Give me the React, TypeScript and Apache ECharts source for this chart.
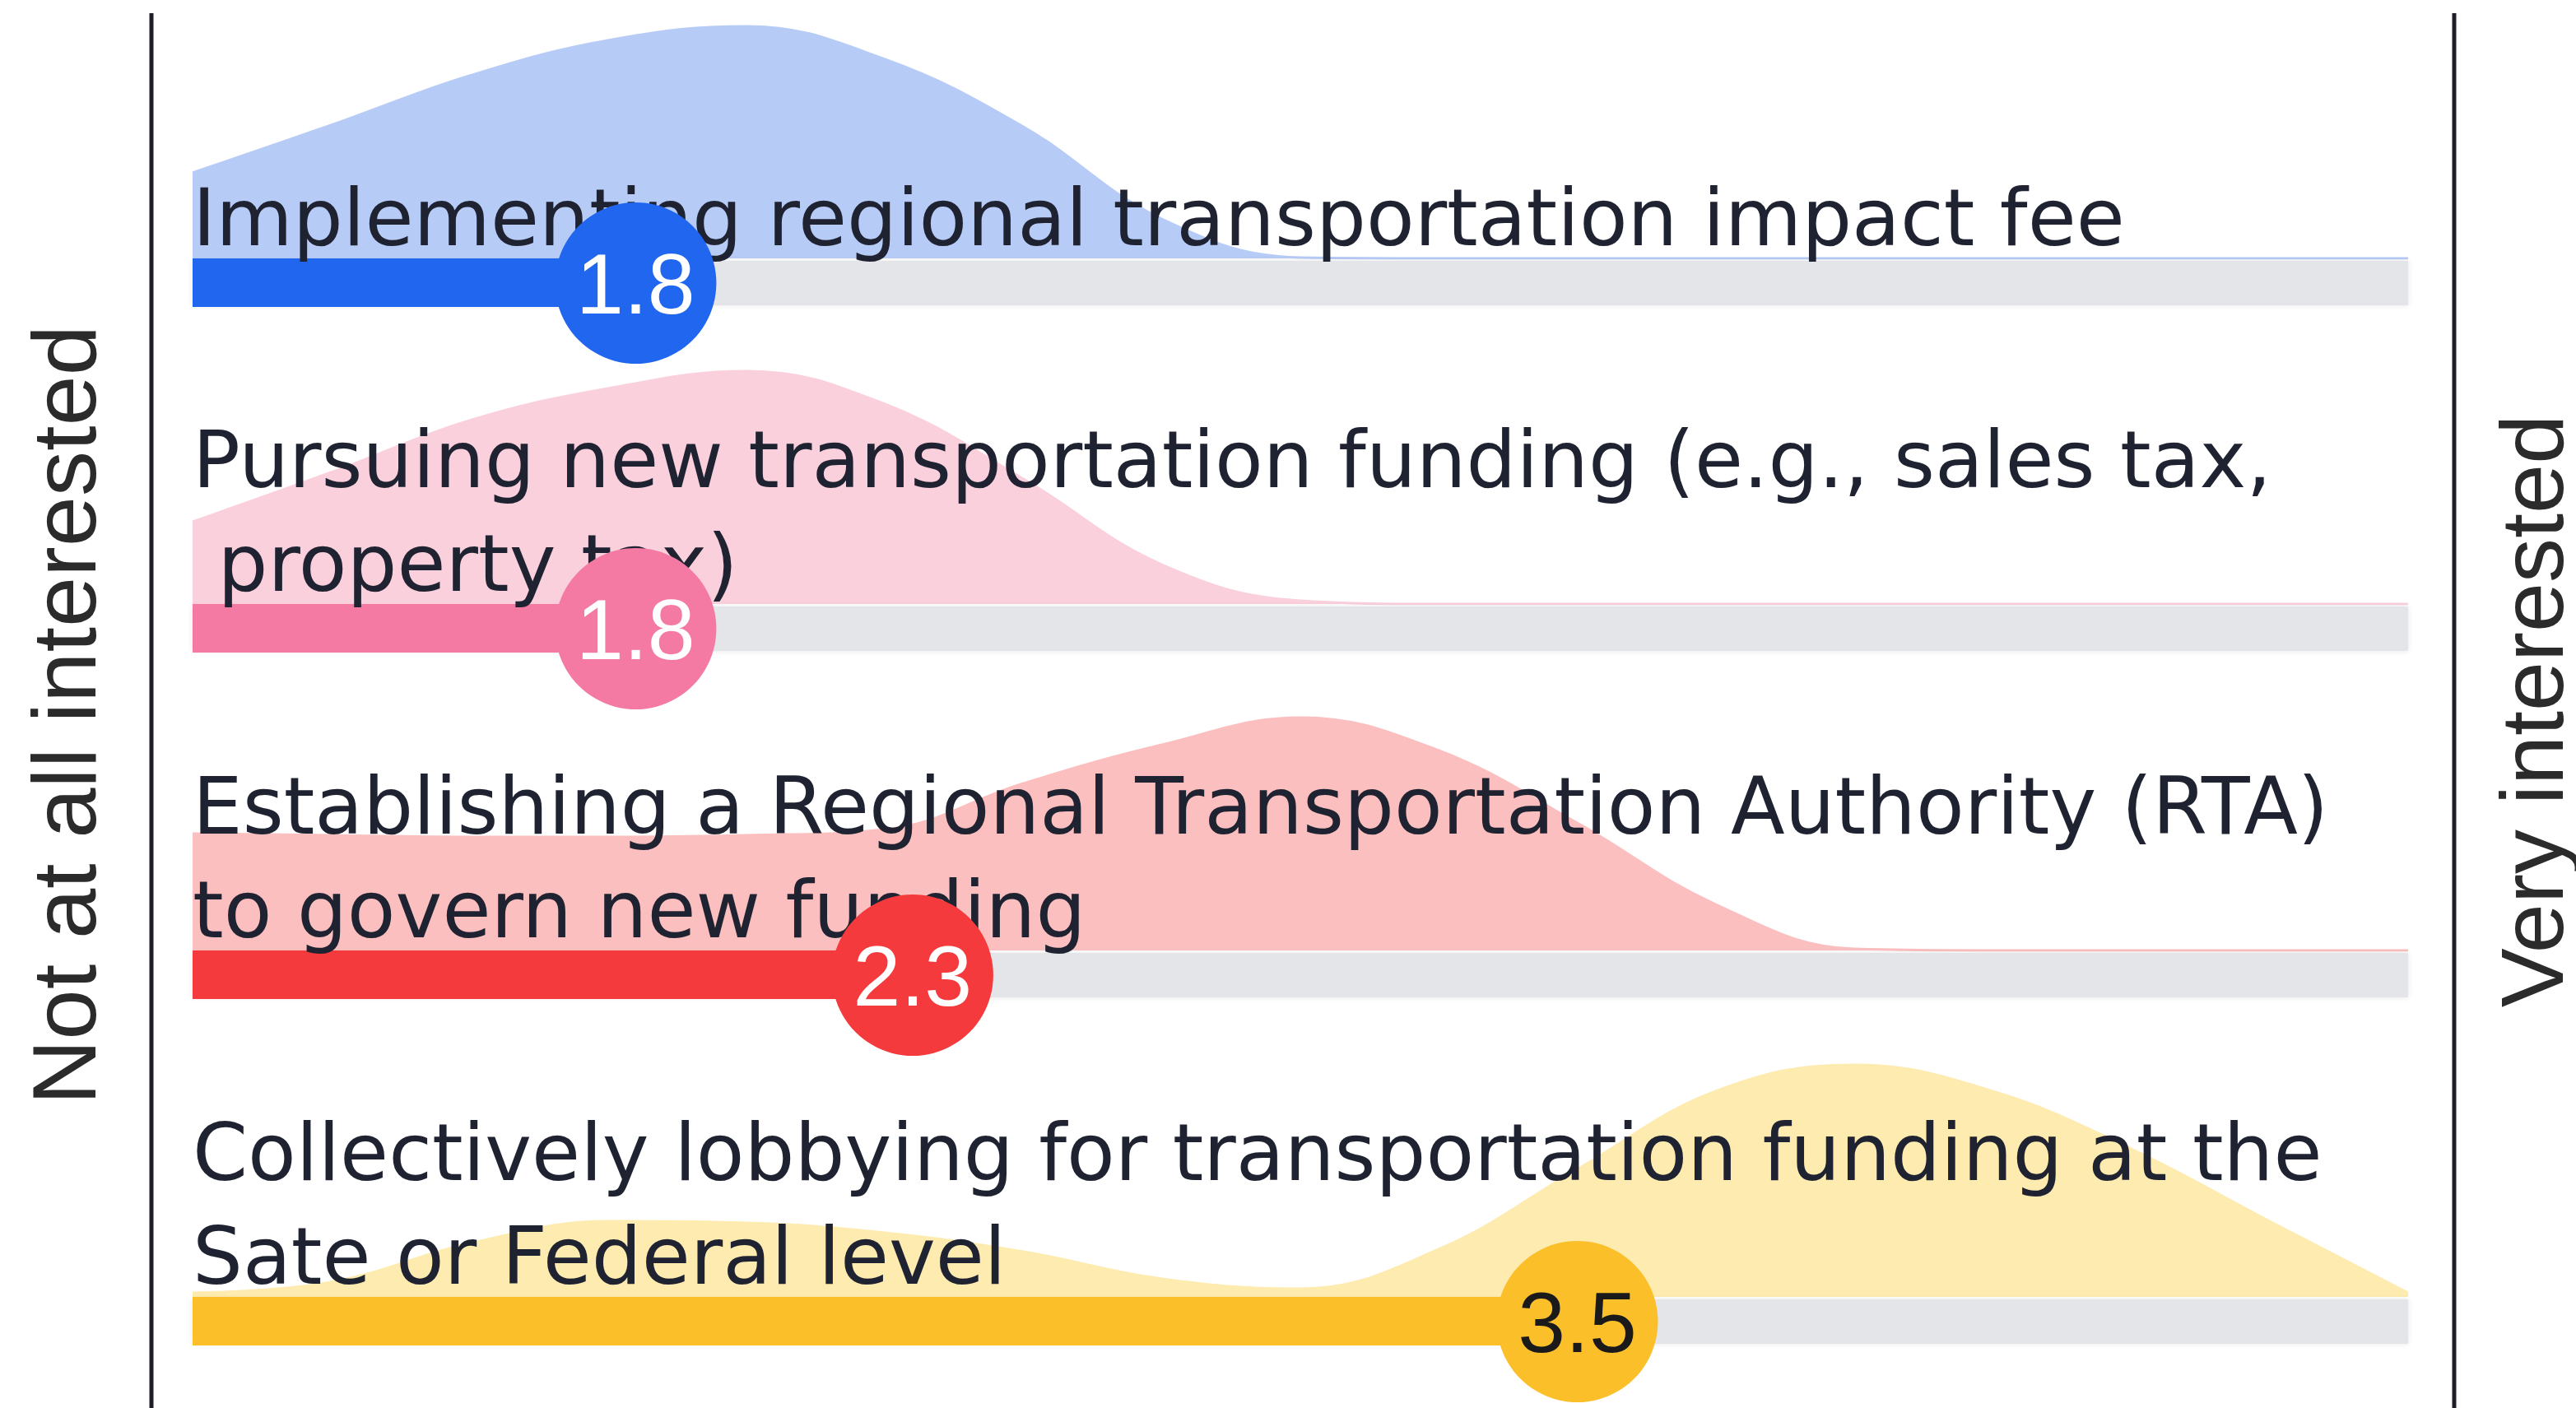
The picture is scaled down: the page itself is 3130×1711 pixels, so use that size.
import React, { useEffect, useRef } from "react";
import * as echarts from "echarts";

// ---------- data ----------
const categories = [
  "Implementing regional transportation impact fee",
  "Pursuing new transportation funding (e.g., sales tax,\n property tax)",
  "Establishing a Regional Transportation Authority (RTA)\nto govern new funding",
  "Collectively lobbying for transportation funding at the\nSate or Federal level",
];
const meanScores = [1.8, 1.8, 2.3, 3.5];
const scalePoints = [1, 1.25, 1.5, 1.75, 2, 2.25, 2.5, 2.75, 3, 3.25, 3.5, 3.75, 4, 4.25, 4.5, 4.75, 5];
const densityImpactFee = [104, 162, 222, 265, 282, 242, 160, 48, 1, 0, 0, 0, 0, 0, 0, 0, 0];
const densityNewFunding = [100, 160, 223, 262, 283, 243, 152, 48, 4, 0, 0, 0, 0, 0, 0, 0, 0];
const densityRTA = [142, 140, 138, 138, 140, 147, 203, 250, 283, 243, 155, 56, 2, 0, 0, 0, 0];
const densityLobbying = [5, 18, 65, 92, 90, 78, 55, 22, 10, 58, 155, 250, 282, 250, 180, 92, 5];
const densities = [densityImpactFee, densityNewFunding, densityRTA, densityLobbying];
const scaleMin = 1;
const scaleMax = 5;
const leftEndLabel = "Not at all interested";
const rightEndLabel = "Very interested";

// ---------- styles ----------
const barColors = ["#2166ee", "#f47aa3", "#f43a3c", "#fbbf2a"];
const areaColors = ["#b6cbf6", "#fbd0dd", "#fbbfbf", "#feebb0"];
const valueTextColors = ["#ffffff", "#ffffff", "#ffffff", "#1a1a1a"];
const rowBaselines = [314, 734, 1155, 1576];
const PLOT_LEFT = 234;
const PLOT_WIDTH = 2692;
const DENSITY_MAX = 300;

export default function App() {
  const ref = useRef<HTMLDivElement>(null);

  useEffect(() => {
    if (!ref.current) return;
    const chart = echarts.init(ref.current, undefined, { renderer: "svg" });

    const grids: any[] = [];
    const xAxes: any[] = [];
    const yAxes: any[] = [];
    const series: any[] = [];

    categories.forEach((cat, i) => {
      const b = rowBaselines[i];
      grids.push({ left: PLOT_LEFT, width: PLOT_WIDTH, top: b - DENSITY_MAX, height: DENSITY_MAX });
      xAxes.push({ type: "value", gridIndex: i, min: scaleMin, max: scaleMax, show: false });
      yAxes.push({ type: "value", gridIndex: i, min: 0, max: DENSITY_MAX, show: false });

      series.push({
        type: "line",
        xAxisIndex: i,
        yAxisIndex: i,
        data: scalePoints.map((x, k) => [x, densities[i][k]]),
        smooth: 0.4,
        showSymbol: false,
        symbol: "none",
        clip: true,
        z: 2,
        lineStyle: { color: areaColors[i], width: 3 },
        areaStyle: { color: areaColors[i], opacity: 1 },
        silent: true,
      });

      series.push({
        type: "custom",
        xAxisIndex: i,
        yAxisIndex: i,
        z: 3,
        data: [[meanScores[i]]],
        renderItem: (params: any, api: any) => {
          const v = api.value(0) as number;
          const start = api.coord([scaleMin, 0]);
          const mid = api.coord([v, 0]);
          const end = api.coord([scaleMax, 0]);
          const base = start[1];
          const lines = cat.split("\n");
          const children: any[] = [];
          children.push({
            type: "rect",
            shape: { x: start[0], y: base + 3, width: end[0] - start[0], height: 54 },
            style: { fill: "#e3e5e8", shadowBlur: 6, shadowColor: "rgba(0,0,0,0.10)" },
          });
          children.push({
            type: "rect",
            shape: { x: start[0], y: base, width: mid[0] - start[0], height: 59 },
            style: { fill: barColors[i] },
          });
          lines.forEach((ln: string, k: number) => {
            const baseline = base - 16 - (lines.length - 1 - k) * 126;
            children.push({
              type: "text",
              x: start[0],
              y: baseline - 33,
              style: {
                text: ln,
                fontSize: 96,
                fontFamily: "DejaVu Sans",
                fill: "#1f2230",
                align: "left",
                verticalAlign: "middle",
              },
            });
          });
          children.push({
            type: "circle",
            shape: { cx: mid[0], cy: base + 30, r: 98 },
            style: { fill: barColors[i] },
          });
          children.push({
            type: "text",
            x: mid[0],
            y: base + 31,
            style: {
              text: v.toFixed(1),
              fontSize: 104,
              fontFamily: "'Liberation Sans Narrow', 'Arial Narrow', 'Liberation Sans', sans-serif",
              fill: valueTextColors[i],
              align: "center",
              verticalAlign: "middle",
            },
          });
          return { type: "group", children };
        },
      });
    });

    chart.setOption({
      animation: false,
      backgroundColor: "#ffffff",
      grid: grids,
      xAxis: xAxes,
      yAxis: yAxes,
      series,
      graphic: [
        { type: "line", shape: { x1: 184, y1: 16, x2: 184, y2: 1711 }, style: { stroke: "#1e1e28", lineWidth: 5 } },
        { type: "line", shape: { x1: 2982, y1: 16, x2: 2982, y2: 1711 }, style: { stroke: "#1e1e28", lineWidth: 5 } },
        {
          type: "text",
          x: 77,
          y: 869,
          rotation: Math.PI / 2,
          style: {
            text: leftEndLabel,
            fontSize: 110,
            fontFamily: "'Liberation Sans', Arial, sans-serif",
            fill: "#2b2b2b",
            align: "center",
            verticalAlign: "middle",
          },
        },
        {
          type: "text",
          x: 3076,
          y: 864,
          rotation: Math.PI / 2,
          style: {
            text: rightEndLabel,
            fontSize: 108,
            fontFamily: "'Liberation Sans', Arial, sans-serif",
            fill: "#2b2b2b",
            align: "center",
            verticalAlign: "middle",
          },
        },
      ],
    });

    return () => chart.dispose();
  }, []);

  return (
    <div
      ref={ref}
      style={{ position: "absolute", left: 0, top: 0, width: 3130, height: 1711, background: "#ffffff" }}
    />
  );
}
